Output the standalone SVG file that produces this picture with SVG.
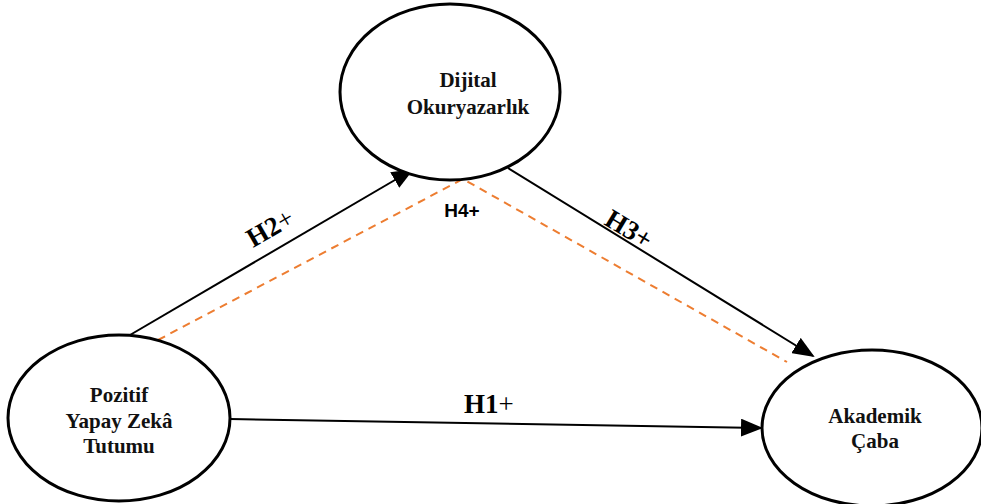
<svg xmlns="http://www.w3.org/2000/svg" width="981" height="504" viewBox="0 0 981 504">
<style>
.node{fill:#fff;stroke:#000;stroke-width:3}
.nt{font-family:"Liberation Serif","Times New Roman",serif;font-weight:bold;font-size:21px;text-anchor:middle;fill:#111}
.lbl{font-family:"Liberation Serif","Times New Roman",serif;font-weight:bold;font-size:27px;fill:#000}
.arr{stroke:#000;stroke-width:2;fill:none;marker-end:url(#ah)}
.dash{stroke:#ED7D31;stroke-width:2;stroke-dasharray:8,6;fill:none}
</style>
<defs>
<marker id="ah" markerWidth="11" markerHeight="9" refX="10" refY="4.5" orient="auto" markerUnits="strokeWidth">
<path d="M0,0 L11,4.5 L0,9 Z" fill="#000"/>
</marker>
</defs>
<g id="connectors">
<line class="arr" x1="130" y1="335" x2="412" y2="170"/>
<line class="arr" x1="508" y1="168" x2="813" y2="356"/>
<line class="arr" x1="230" y1="419" x2="761" y2="428"/>
<polyline class="dash" points="158,340 463,179 787,362"/>
<text class="lbl" transform="translate(253,248) rotate(-30)">H2<tspan font-weight="normal">+</tspan></text>
<text x="462" y="217" font-family="Liberation Sans,Arial,sans-serif" font-weight="bold" font-size="19" text-anchor="middle">H4+</text>
<text class="lbl" transform="translate(603,224) rotate(31)">H3+</text>
<text class="lbl" x="464" y="413">H1<tspan font-weight="normal">+</tspan></text>
</g>
<g id="dijital">
<ellipse class="node" cx="450" cy="92" rx="110" ry="88"/>
<text class="nt" x="468" y="87">Dijital</text>
<text class="nt" x="468" y="114">Okuryazarlık</text>
</g>
<g id="pozitif">
<ellipse class="node" cx="119" cy="418" rx="111" ry="83"/>
<text class="nt" x="119" y="402">Pozitif</text>
<text class="nt" x="119" y="428">Yapay Zekâ</text>
<text class="nt" x="119" y="453">Tutumu</text>
</g>
<g id="akademik">
<ellipse class="node" cx="872" cy="428" rx="110" ry="78"/>
<text class="nt" x="875" y="423">Akademik</text>
<text class="nt" x="875" y="448">Çaba</text>
</g>
</svg>
